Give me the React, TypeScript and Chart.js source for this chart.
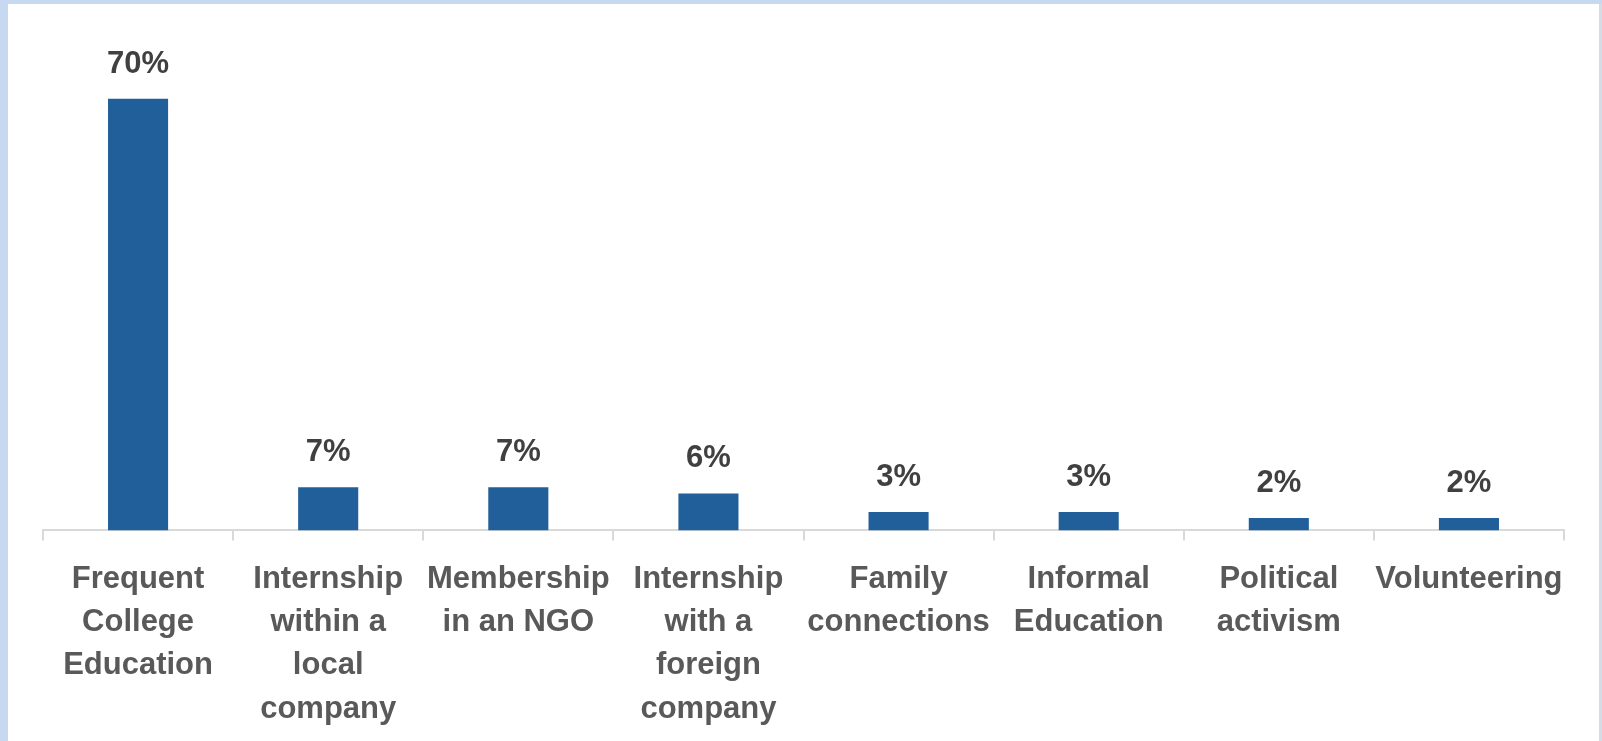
import React, { useEffect, useRef } from "react";
import { Chart, registerables } from "chart.js";

Chart.register(...registerables);

const categories: string[][] = [
  ["Frequent", "College", "Education"],
  ["Internship", "within a", "local", "company"],
  ["Membership", "in an NGO"],
  ["Internship", "with a", "foreign", "company"],
  ["Family", "connections"],
  ["Informal", "Education"],
  ["Political", "activism"],
  ["Volunteering"],
];
const values: number[] = [70, 7, 7, 6, 3, 3, 2, 2];
const valueLabels: string[] = ["70%", "7%", "7%", "6%", "3%", "3%", "2%", "2%"];

const FONT = "'Liberation Sans', Arial, sans-serif";

const dataLabelPlugin = {
  id: "dataLabels",
  afterDatasetsDraw(chart: any) {
    const ctx = chart.ctx;
    const meta = chart.getDatasetMeta(0);
    ctx.save();
    ctx.fillStyle = "#404040";
    ctx.font = `bold 31px ${FONT}`;
    ctx.textAlign = "center";
    ctx.textBaseline = "alphabetic";
    meta.data.forEach((el: any, i: number) => {
      ctx.fillText(valueLabels[i], el.x, el.y - 26);
    });
    ctx.restore();
  },
};

export default function App() {
  const ref = useRef<HTMLCanvasElement | null>(null);
  useEffect(() => {
    document.body.style.margin = "0";
    const chart = new Chart(ref.current as HTMLCanvasElement, {
      type: "bar",
      data: {
        labels: categories,
        datasets: [
          {
            data: values,
            backgroundColor: "#215F9A",
            categoryPercentage: 1,
            barPercentage: 0.316,
          },
        ],
      },
      options: {
        animation: false,
        responsive: false,
        maintainAspectRatio: false,
        layout: { padding: { left: 35, right: 35, top: 33, bottom: 0 } },
        plugins: { legend: { display: false }, tooltip: { enabled: false } },
        scales: {
          x: {
            grid: {
              display: true,
              drawOnChartArea: false,
              drawTicks: true,
              tickLength: 10,
              color: "#D9D9D9",
              lineWidth: 2,
              offset: true,
            },
            border: { color: "#D9D9D9", width: 2 },
            ticks: {
              color: "#595959",
              font: { family: FONT, size: 31, weight: "bold", lineHeight: 1.4 },
              padding: 17,
              maxRotation: 0,
              autoSkip: false,
            },
          },
          y: {
            display: false,
            min: 0,
            max: 80,
          },
        },
      },
      plugins: [dataLabelPlugin],
    });
    return () => chart.destroy();
  }, []);

  return (
    <div style={{ width: 1602, height: 741, background: "#C6D9F0", position: "relative", overflow: "hidden" }}>
      <div
        style={{
          position: "absolute",
          left: 8,
          top: 4,
          width: 1591,
          height: 737,
          background: "#FFFFFF",
          overflow: "hidden",
        }}
      >
        <canvas ref={ref} width={1591} height={744} style={{ display: "block" }} />
      </div>
      <div style={{ position: "absolute", left: 1599, top: 4, width: 3, height: 737, background: "#D5DCE6" }} />
    </div>
  );
}
